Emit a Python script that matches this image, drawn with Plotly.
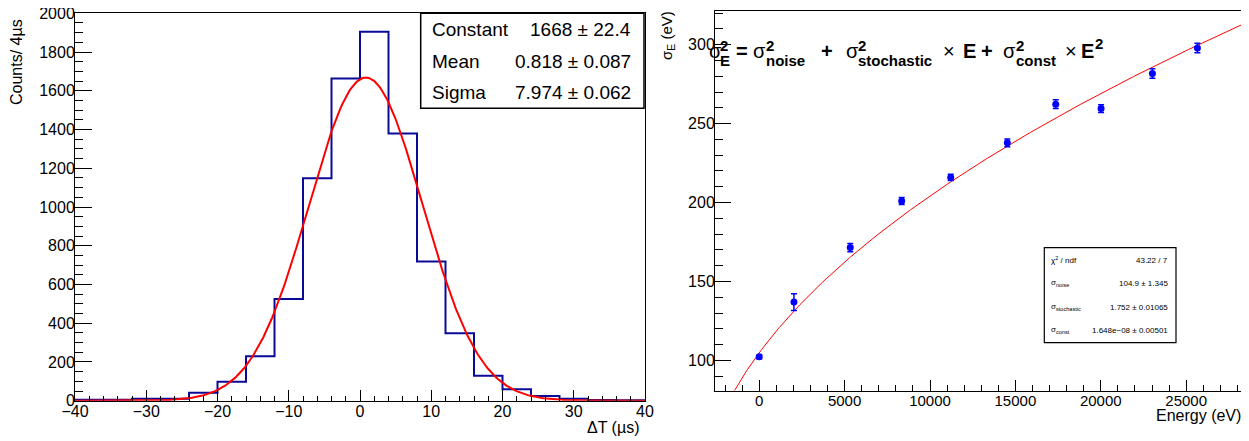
import numpy as np
import plotly.graph_objects as go

WIN_W, WIN_H = 1249, 441
OFF = 8  # default page body margin
W, H = WIN_W - OFF, WIN_H - OFF
FONT = "Liberation Sans, Arial, Helvetica, sans-serif"

# ---------------- Left: histogram of time differences ----------------
bin_edges = [-40, -36, -32, -28, -24, -20, -16, -12, -8, -4, 0, 4, 8, 12, 16, 20, 24, 28, 32, 36, 40]
counts = [5, 5, 10, 10, 41, 98, 229, 525, 1148, 1664, 1905, 1380, 718, 348, 129, 59, 24, 10, 3, 2]

gaus_constant = 1668.0
gaus_mean = 0.818
gaus_sigma = 7.974
stats_left_labels = ["Constant", "Mean", "Sigma"]
stats_left_values = ["1668 ± 22.4", "0.818 ± 0.087", "7.974 ± 0.062"]

# ---------------- Right: energy resolution ----------------
energy = [0, 2033, 5331, 8342, 11213, 14528, 17363, 20018, 23023, 25659]
sigma_e = [102.3, 137.0, 171.5, 201.0, 215.9, 237.8, 262.3, 259.5, 281.7, 297.9]
sigma_err = [1.2, 5.3, 2.6, 2.2, 2.0, 2.5, 2.8, 2.5, 3.0, 3.0]

fit_noise = 104.9
fit_stoch = 1.752
fit_const = 1.648e-08
stats_right_labels = ["χ<sup>2</sup> / ndf", "σ<sub>noise</sub>", "σ<sub>stochastic</sub>", "σ<sub>const</sub>"]
stats_right_values = ["43.22 / 7", "104.9 ± 1.345", "1.752 ± 0.01065", "1.648e−08 ± 0.00501"]

fig = go.Figure()

# histogram outline
step_x = list(bin_edges)
step_y = list(counts) + [counts[-1]]
fig.add_trace(go.Scatter(x=step_x, y=step_y, mode="lines", line=dict(color="#0a0a99", width=2, shape="hv"),
                         xaxis="x", yaxis="y", hoverinfo="skip"))
# gaussian fit curve
gx = np.linspace(bin_edges[0], bin_edges[-1], 400)
gy = gaus_constant * np.exp(-0.5 * ((gx - gaus_mean) / gaus_sigma) ** 2)
fig.add_trace(go.Scatter(x=gx, y=gy, mode="lines", line=dict(color="#ff0000", width=2),
                         xaxis="x", yaxis="y", hoverinfo="skip"))

# resolution fit curve
x2_range = [-2590, 28270]
y2_range = [81, 321.3]
ex = np.linspace(-1500, x2_range[1], 400)
ey2 = fit_noise ** 2 + fit_stoch ** 2 * ex + fit_const ** 2 * ex ** 2
mask = ey2 > 0
ey = np.sqrt(ey2[mask])
fig.add_trace(go.Scatter(x=ex[mask], y=ey, mode="lines", line=dict(color="#ff0000", width=1),
                         xaxis="x2", yaxis="y2", hoverinfo="skip"))
fig.add_trace(go.Scatter(x=energy, y=sigma_e, mode="markers",
                         marker=dict(color="#0000ff", size=7),
                         error_y=dict(type="data", array=sigma_err, color="#0000ff", thickness=1.5, width=3),
                         xaxis="x2", yaxis="y2"))


def px(x):
    return (x - OFF) / W


def py(y):
    return 1 - (y - OFF) / H


def ax(**kw):
    base = dict(showline=True, linecolor="black", linewidth=1, mirror=True, ticks="inside",
                tickcolor="black", showgrid=False, zeroline=False, automargin=False,
                ticklabelstandoff=-4, ticklabeloverflow="allow",
                tickfont=dict(family=FONT, size=16, color="black"))
    base.update(kw)
    return base


left_dom_x = [px(75), px(645)]
left_dom_y = [py(400.7), py(13.3)]
right_dom_x = [px(715), px(1242)]
right_dom_y = [py(390.5), py(11)]

fig.update_layout(
    width=W, height=H, margin=dict(l=0, r=0, t=0, b=0, pad=0, autoexpand=False),
    paper_bgcolor="white", plot_bgcolor="white", showlegend=False,
    xaxis=ax(range=[-40, 40], domain=left_dom_x, anchor="y", dtick=10, tick0=0, ticklen=11,
             minor=dict(dtick=2, ticklen=5, ticks="inside", tickcolor="black")),
    yaxis=ax(range=[0, 2000], domain=left_dom_y, anchor="x", dtick=200, tick0=0, ticklen=17,
             minor=dict(dtick=50, ticklen=8, ticks="inside", tickcolor="black")),
    xaxis2=ax(range=x2_range, domain=right_dom_x, anchor="y2", dtick=5000, tick0=0, ticklen=11,
              tickformat="d", tickfont=dict(family=FONT, size=15, color="black"),
              minor=dict(dtick=1000, ticklen=6, ticks="inside", tickcolor="black")),
    yaxis2=ax(range=y2_range, domain=right_dom_y, anchor="x2", dtick=50, tick0=0, ticklen=16,
              minor=dict(dtick=10, ticklen=8, ticks="inside", tickcolor="black")),
)


def ann(x, y, text, size, anchor="left", angle=0, color="black"):
    fig.add_annotation(x=px(x), y=py(y), xref="paper", yref="paper", text=text, showarrow=False,
                       xanchor=anchor, yanchor="middle", borderpad=0, textangle=angle,
                       font=dict(family=FONT, size=size, color=color))


# axis titles
ann(16, 62, "Counts/ 4µs", 16, anchor="center", angle=-90)
ann(641, 427, "ΔT (µs)", 16, anchor="right")
ann(668, 36, "σ<sub>E</sub> (eV)", 15, anchor="center", angle=-90)
ann(1242, 415, "Energy (eV)", 16, anchor="right")

# left stats box
fig.add_shape(type="rect", xref="paper", yref="paper", x0=px(420.7), x1=px(644),
              y0=py(108.3), y1=py(13.3), line=dict(color="black", width=1.5), fillcolor="white")
rows_left = [29.3, 61.7, 92.7]
for yy, lab, val in zip(rows_left, stats_left_labels, stats_left_values):
    ann(431, yy, lab, 19, anchor="left")
    ann(632, yy, val, 19, anchor="right")

# right stats box
fig.add_shape(type="rect", xref="paper", yref="paper", x0=px(1044.3), x1=px(1176),
              y0=py(342.7), y1=py(247.7), line=dict(color="black", width=1.2), fillcolor="white")
rows_right = [260, 283, 307, 330]
for yy, lab, val in zip(rows_right, stats_right_labels, stats_right_values):
    ann(1050, yy, lab, 8, anchor="left")
    ann(1169, yy, val, 8, anchor="right")

# formula  sigma_E^2 = sigma_noise^2 + sigma_stochastic^2 x E + sigma_const^2 x E^2
MAIN_Y, SUP_Y, SUB_Y = 50.5, 46, 60.5
MS, SS = 20, 15
pieces = [
    (708, MAIN_Y, "σ", MS), (719, SUP_Y - 0, "<b>2</b>", SS), (719, SUB_Y, "<b>E</b>", SS),
    (735, MAIN_Y, "<b>=</b>", MS),
    (752, MAIN_Y, "σ", MS), (765, SUP_Y, "<b>2</b>", SS), (765, SUB_Y, "<b>noise</b>", SS),
    (820, MAIN_Y, "<b>+</b>", MS),
    (845, MAIN_Y, "σ", MS), (857, SUP_Y, "<b>2</b>", SS), (857, SUB_Y, "<b>stochastic</b>", SS),
    (942, MAIN_Y, "×", MS),
    (962, MAIN_Y, "<b>E</b>", MS),
    (980, MAIN_Y, "<b>+</b>", MS),
    (1002, MAIN_Y, "σ", MS), (1015, SUP_Y, "<b>2</b>", SS), (1015, SUB_Y, "<b>const</b>", SS),
    (1064, MAIN_Y, "×", MS),
    (1080, MAIN_Y, "<b>E</b>", MS), (1094, SUP_Y - 2, "<b>2</b>", SS),
]
for x0, y0, t, s in pieces:
    ann(x0, y0, t, s, anchor="left")

fig.write_html("out.html")
